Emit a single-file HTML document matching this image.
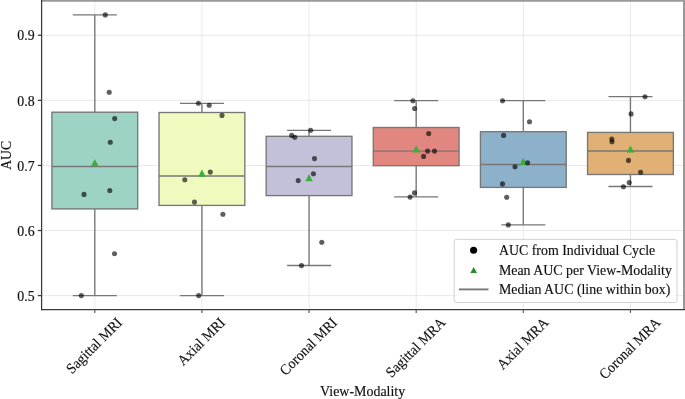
<!DOCTYPE html>
<html><head><meta charset="utf-8"><title>AUC by View-Modality</title>
<style>
html,body{margin:0;padding:0;background:#fff;}
body{width:685px;height:399px;overflow:hidden;font-family:"Liberation Serif",serif;}
svg{display:block;will-change:transform;}
svg text{font-family:"Liberation Serif",serif;fill:#111;}
</style></head><body>
<svg width="685" height="399" viewBox="0 0 685 399">
<rect x="0" y="0" width="685" height="399" fill="#ffffff"/>
<g stroke="#e6e6e6" stroke-width="0.9" fill="none">
<line x1="41.6" y1="295.60" x2="685" y2="295.60"/>
<line x1="41.6" y1="230.52" x2="685" y2="230.52"/>
<line x1="41.6" y1="165.44" x2="685" y2="165.44"/>
<line x1="41.6" y1="100.36" x2="685" y2="100.36"/>
<line x1="41.6" y1="35.28" x2="685" y2="35.28"/>
<line x1="94.80" y1="0" x2="94.80" y2="309.6"/>
<line x1="201.93" y1="0" x2="201.93" y2="309.6"/>
<line x1="309.06" y1="0" x2="309.06" y2="309.6"/>
<line x1="416.19" y1="0" x2="416.19" y2="309.6"/>
<line x1="523.32" y1="0" x2="523.32" y2="309.6"/>
<line x1="630.45" y1="0" x2="630.45" y2="309.6"/>
</g>
<g stroke="#777777" stroke-width="1.35" fill="none">
<rect x="51.90" y="112.20" width="85.80" height="96.70" fill="#9dd3c4"/>
<line x1="94.80" y1="112.20" x2="94.80" y2="14.90"/>
<line x1="94.80" y1="208.90" x2="94.80" y2="295.60"/>
<line x1="72.80" y1="14.90" x2="116.80" y2="14.90"/>
<line x1="72.80" y1="295.60" x2="116.80" y2="295.60"/>
<line x1="51.90" y1="166.50" x2="137.70" y2="166.50"/>
</g>
<path d="M94.80 158.90 L98.55 166.10 L91.05 166.10 Z" fill="#3cae3c"/>
<g stroke="#777777" stroke-width="1.35" fill="none">
<rect x="159.03" y="112.50" width="85.80" height="92.90" fill="#f0fabe"/>
<line x1="201.93" y1="112.50" x2="201.93" y2="103.30"/>
<line x1="201.93" y1="205.40" x2="201.93" y2="295.60"/>
<line x1="179.93" y1="103.30" x2="223.93" y2="103.30"/>
<line x1="179.93" y1="295.60" x2="223.93" y2="295.60"/>
<line x1="159.03" y1="176.00" x2="244.83" y2="176.00"/>
</g>
<path d="M201.93 169.60 L205.68 176.80 L198.18 176.80 Z" fill="#3cae3c"/>
<g stroke="#777777" stroke-width="1.35" fill="none">
<rect x="266.16" y="136.30" width="85.80" height="59.30" fill="#c3c0da"/>
<line x1="309.06" y1="136.30" x2="309.06" y2="130.30"/>
<line x1="309.06" y1="195.60" x2="309.06" y2="265.50"/>
<line x1="287.06" y1="130.30" x2="331.06" y2="130.30"/>
<line x1="287.06" y1="265.50" x2="331.06" y2="265.50"/>
<line x1="266.16" y1="166.50" x2="351.96" y2="166.50"/>
</g>
<path d="M309.06 174.10 L312.81 181.30 L305.31 181.30 Z" fill="#3cae3c"/>
<g stroke="#777777" stroke-width="1.35" fill="none">
<rect x="373.29" y="127.50" width="85.80" height="38.20" fill="#e28780"/>
<line x1="416.19" y1="127.50" x2="416.19" y2="100.60"/>
<line x1="416.19" y1="165.70" x2="416.19" y2="196.90"/>
<line x1="394.19" y1="100.60" x2="438.19" y2="100.60"/>
<line x1="394.19" y1="196.90" x2="438.19" y2="196.90"/>
<line x1="373.29" y1="151.10" x2="459.09" y2="151.10"/>
</g>
<path d="M416.19 145.40 L419.94 152.60 L412.44 152.60 Z" fill="#3cae3c"/>
<g stroke="#777777" stroke-width="1.35" fill="none">
<rect x="480.42" y="131.70" width="85.80" height="55.70" fill="#8db1cb"/>
<line x1="523.32" y1="131.70" x2="523.32" y2="100.60"/>
<line x1="523.32" y1="187.40" x2="523.32" y2="224.90"/>
<line x1="501.32" y1="100.60" x2="545.32" y2="100.60"/>
<line x1="501.32" y1="224.90" x2="545.32" y2="224.90"/>
<line x1="480.42" y1="164.50" x2="566.22" y2="164.50"/>
</g>
<path d="M523.32 157.70 L527.07 164.90 L519.57 164.90 Z" fill="#3cae3c"/>
<g stroke="#777777" stroke-width="1.35" fill="none">
<rect x="587.55" y="132.40" width="85.80" height="42.10" fill="#e0b074"/>
<line x1="630.45" y1="132.40" x2="630.45" y2="96.60"/>
<line x1="630.45" y1="174.50" x2="630.45" y2="186.50"/>
<line x1="608.45" y1="96.60" x2="652.45" y2="96.60"/>
<line x1="608.45" y1="186.50" x2="652.45" y2="186.50"/>
<line x1="587.55" y1="151.00" x2="673.35" y2="151.00"/>
</g>
<path d="M630.45 145.40 L634.20 152.60 L626.70 152.60 Z" fill="#3cae3c"/>
<g fill="#000000" fill-opacity="0.63">
<circle cx="105.3" cy="14.9" r="2.55"/>
<circle cx="109.2" cy="92.3" r="2.55"/>
<circle cx="114.7" cy="118.6" r="2.55"/>
<circle cx="110.3" cy="142.3" r="2.55"/>
<circle cx="84.0" cy="194.4" r="2.55"/>
<circle cx="109.8" cy="190.5" r="2.55"/>
<circle cx="114.5" cy="253.7" r="2.55"/>
<circle cx="81.3" cy="295.6" r="2.55"/>
<circle cx="198.4" cy="103.3" r="2.55"/>
<circle cx="209.2" cy="105.3" r="2.55"/>
<circle cx="222.0" cy="115.4" r="2.55"/>
<circle cx="210.3" cy="172.1" r="2.55"/>
<circle cx="184.8" cy="179.8" r="2.55"/>
<circle cx="194.5" cy="202.1" r="2.55"/>
<circle cx="222.9" cy="214.2" r="2.55"/>
<circle cx="198.7" cy="295.6" r="2.55"/>
<circle cx="310.6" cy="130.2" r="2.55"/>
<circle cx="291.7" cy="135.4" r="2.55"/>
<circle cx="294.8" cy="137.2" r="2.55"/>
<circle cx="314.5" cy="158.6" r="2.55"/>
<circle cx="313.4" cy="173.7" r="2.55"/>
<circle cx="298.2" cy="180.5" r="2.55"/>
<circle cx="321.8" cy="242.3" r="2.55"/>
<circle cx="301.5" cy="265.6" r="2.55"/>
<circle cx="412.9" cy="100.8" r="2.55"/>
<circle cx="414.6" cy="108.5" r="2.55"/>
<circle cx="428.7" cy="133.6" r="2.55"/>
<circle cx="427.6" cy="151.1" r="2.55"/>
<circle cx="434.5" cy="151.1" r="2.55"/>
<circle cx="423.6" cy="156.4" r="2.55"/>
<circle cx="414.5" cy="192.9" r="2.55"/>
<circle cx="410.1" cy="197.1" r="2.55"/>
<circle cx="502.5" cy="100.8" r="2.55"/>
<circle cx="529.5" cy="121.8" r="2.55"/>
<circle cx="503.6" cy="135.4" r="2.55"/>
<circle cx="527.6" cy="162.8" r="2.55"/>
<circle cx="515.0" cy="166.8" r="2.55"/>
<circle cx="502.5" cy="183.9" r="2.55"/>
<circle cx="506.7" cy="197.2" r="2.55"/>
<circle cx="508.3" cy="224.9" r="2.55"/>
<circle cx="645.0" cy="96.8" r="2.55"/>
<circle cx="631.1" cy="113.9" r="2.55"/>
<circle cx="611.8" cy="139.0" r="2.55"/>
<circle cx="612.0" cy="141.7" r="2.55"/>
<circle cx="628.5" cy="160.4" r="2.55"/>
<circle cx="640.6" cy="172.2" r="2.55"/>
<circle cx="629.2" cy="182.5" r="2.55"/>
<circle cx="623.4" cy="186.8" r="2.55"/>
</g>
<rect x="454.2" y="239.4" width="222.8" height="63.1" rx="2.2" ry="2.2" fill="#ffffff" fill-opacity="0.85" stroke="#cccccc" stroke-width="0.9"/>
<circle cx="473.6" cy="250.3" r="3.55" fill="#000"/>
<path d="M473.7 267.0 L477.1 273.1 L470.3 273.1 Z" fill="#2a8c24"/>
<line x1="459" y1="289.4" x2="488.5" y2="289.4" stroke="#7a7a7a" stroke-width="1.9"/>
<g font-size="13.6px" stroke="#111" stroke-width="0.15">
<text transform="translate(498.9 255.3) scale(1.022 1)">AUC from Individual Cycle</text>
<text transform="translate(498.9 274.8) scale(1.022 1)">Mean AUC per View-Modality</text>
<text transform="translate(498.9 294.3) scale(1.022 1)">Median AUC (line within box)</text>
</g>
<rect x="41.0" y="0" width="644.0" height="1.75" fill="#999999"/>
<rect x="683" y="0" width="2" height="309.6" fill="#999999"/>
<g stroke="#3a3a3a" stroke-width="1.25" fill="none">
<line x1="41.60" y1="0" x2="41.60" y2="310.20"/>
<line x1="41.00" y1="309.60" x2="685" y2="309.60"/>
<line x1="37.8" y1="295.60" x2="41.60" y2="295.60"/>
<line x1="37.8" y1="230.52" x2="41.60" y2="230.52"/>
<line x1="37.8" y1="165.44" x2="41.60" y2="165.44"/>
<line x1="37.8" y1="100.36" x2="41.60" y2="100.36"/>
<line x1="37.8" y1="35.28" x2="41.60" y2="35.28"/>
<line x1="94.80" y1="309.60" x2="94.80" y2="312.9" stroke="#555555" stroke-width="1.15"/>
<line x1="201.93" y1="309.60" x2="201.93" y2="312.9" stroke="#555555" stroke-width="1.15"/>
<line x1="309.06" y1="309.60" x2="309.06" y2="312.9" stroke="#555555" stroke-width="1.15"/>
<line x1="416.19" y1="309.60" x2="416.19" y2="312.9" stroke="#555555" stroke-width="1.15"/>
<line x1="523.32" y1="309.60" x2="523.32" y2="312.9" stroke="#555555" stroke-width="1.15"/>
<line x1="630.45" y1="309.60" x2="630.45" y2="312.9" stroke="#555555" stroke-width="1.15"/>
</g>
<g font-size="15px" text-anchor="end" stroke="#111" stroke-width="0.2">
<text transform="translate(34.6 300.80) scale(0.925 1)">0.5</text>
<text transform="translate(34.6 235.72) scale(0.925 1)">0.6</text>
<text transform="translate(34.6 170.64) scale(0.925 1)">0.7</text>
<text transform="translate(34.6 105.56) scale(0.925 1)">0.8</text>
<text transform="translate(34.6 40.48) scale(0.925 1)">0.9</text>
</g>
<g font-size="14.7px" text-anchor="middle" stroke="#111" stroke-width="0.15">
<text transform="translate(94.80 343.09) rotate(-45) scale(0.945 1)" x="-2.4" y="6.1">Sagittal MRI</text>
<text transform="translate(201.93 339.00) rotate(-45) scale(0.945 1)" x="-2.4" y="6.1">Axial MRI</text>
<text transform="translate(309.06 343.91) rotate(-45) scale(0.945 1)" x="-2.4" y="6.1">Coronal MRI</text>
<text transform="translate(416.19 345.00) rotate(-45) scale(0.945 1)" x="-2.4" y="6.1">Sagittal MRA</text>
<text transform="translate(523.32 340.91) rotate(-45) scale(0.945 1)" x="-2.4" y="6.1">Axial MRA</text>
<text transform="translate(630.45 345.82) rotate(-45) scale(0.945 1)" x="-2.4" y="6.1">Coronal MRA</text>
</g>
<text transform="translate(362.6 395.5) scale(1.025 1)" font-size="13.6px" stroke="#111" stroke-width="0.15" text-anchor="middle">View-Modality</text>
<text transform="translate(10.8 155.4) rotate(-90) scale(1.0 1)" font-size="13.6px" stroke="#111" stroke-width="0.15" text-anchor="middle">AUC</text>
</svg></body></html>
